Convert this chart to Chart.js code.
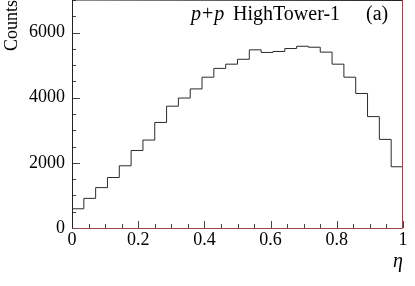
<!DOCTYPE html>
<html>
<head>
<meta charset="utf-8">
<script src="https://cdn.jsdelivr.net/npm/chart.js@4/dist/chart.umd.min.js"></script>
<style>
html,body{margin:0;padding:0;background:#fff;}
canvas{display:block;}
</style>
</head>
<body>
<canvas id="c" width="415" height="286"></canvas>
<script>
// ---- data ----
const nBins = 28;
const etaMin = 0, etaMax = 1;
const counts = [590, 910, 1240, 1550, 1910, 2380, 2700, 3240, 3740, 3990, 4270, 4630, 4900, 5030,
                5180, 5470, 5390, 5420, 5510, 5580, 5550, 5400, 5030, 4630, 4130, 3420, 2720, 1880];
const xTickValues = [0, 0.2, 0.4, 0.6, 0.8, 1];
const xTickLabels = ['0', '0.2', '0.4', '0.6', '0.8', '1'];
const yTickValues = [0, 2000, 4000, 6000];
const yTickLabels = ['0', '2000', '4000', '6000'];
const yMax = 7000;
const xTitle = 'η';
const yTitle = 'Counts';

// build step points at bin lower edges
const binWidth = (etaMax - etaMin) / nBins;
const pts = counts.map((v, i) => ({x: etaMin + i * binWidth, y: v}));
pts.push({x: etaMax, y: counts[counts.length - 1]});

const FONT = "'Liberation Serif', 'Times New Roman', serif";

const decor = {
  id: 'decor',
  afterDraw(chart) {
    const ctx = chart.ctx;
    const xs = chart.scales.x, ys = chart.scales.y;
    const a = chart.chartArea;
    ctx.save();
    // ticks
    ctx.strokeStyle = '#444';
    ctx.lineWidth = 1;
    ctx.beginPath();
    for (let k = 0; k <= 20; k++) {
      const v = k * 0.05;
      const px = Math.round(xs.getPixelForValue(v)) + 0.5;
      const len = (k % 4 === 0) ? 7 : 4;
      ctx.moveTo(px, a.bottom);
      ctx.lineTo(px, a.bottom - len);
    }
    for (let k = 0; k <= 14; k++) {
      const v = k * 500;
      const py = Math.round(ys.getPixelForValue(v)) + 0.5;
      const len = (k % 4 === 0) ? 8 : 4;
      ctx.moveTo(a.left, py);
      ctx.lineTo(a.left + len, py);
    }
    ctx.stroke();
    // frame
    ctx.lineWidth = 1;
    ctx.strokeStyle = '#222';
    ctx.beginPath();
    ctx.moveTo(Math.round(a.left) + 0.5, a.bottom);
    ctx.lineTo(Math.round(a.left) + 0.5, a.top);
    ctx.lineTo(a.right, Math.round(a.top) + 0.5);
    ctx.stroke();
    ctx.strokeStyle = '#9a4646';
    ctx.beginPath();
    ctx.moveTo(Math.round(a.right) - 0.5, a.top);
    ctx.lineTo(Math.round(a.right) - 0.5, Math.round(a.bottom) + 0.5);
    ctx.lineTo(a.left + 1, Math.round(a.bottom) + 0.5);
    ctx.stroke();
    // label text with italic p
    ctx.fillStyle = '#000';
    ctx.textBaseline = 'alphabetic';
    ctx.textAlign = 'left';
    let x = 191;
    const y = 20;
    const parts = [
      ['italic 20px ' + FONT, 'p', 1],
      ['20px ' + FONT, '+', 1],
      ['italic 20px ' + FONT, 'p', 0],
    ];
    for (const [f, t, gap] of parts) {
      ctx.font = f;
      ctx.fillText(t, x, y);
      x += ctx.measureText(t).width + gap;
    }
    ctx.font = '20px ' + FONT;
    ctx.fillText('HighTower-1', 233, y);
    ctx.fillText('(a)', 366, y);
    ctx.restore();
  }
};

new Chart(document.getElementById('c'), {
  type: 'line',
  data: {
    datasets: [{
      data: pts,
      stepped: 'before',
      borderColor: '#2a2a2a',
      borderWidth: 1,
      pointRadius: 0,
      fill: false,
      tension: 0
    }]
  },
  options: {
    responsive: false,
    animation: false,
    events: [],
    layout: {padding: {left: 0, right: 12, top: 0, bottom: 0}},
    plugins: {legend: {display: false}, tooltip: {enabled: false}},
    scales: {
      x: {
        type: 'linear',
        min: etaMin, max: etaMax,
        grid: {display: false, drawTicks: false},
        border: {display: false},
        afterBuildTicks: s => { s.ticks = xTickValues.map(v => ({value: v})); },
        afterFit: s => { s.height = 58; s.paddingLeft = 0; s.paddingRight = 0; },
        ticks: {
          autoSkip: false, maxRotation: 0, padding: 1,
          color: '#000',
          font: {family: FONT, size: 18},
          callback: (v, i) => xTickLabels[i]
        },
        title: {
          display: true, text: xTitle, align: 'end', color: '#000',
          font: {family: FONT, size: 20, style: 'italic'},
          padding: {top: 0, bottom: 12}
        }
      },
      y: {
        type: 'linear',
        min: 0, max: yMax,
        grid: {display: false, drawTicks: false},
        border: {display: false},
        afterBuildTicks: s => { s.ticks = yTickValues.map(v => ({value: v})); },
        afterFit: s => { s.width = 72; s.paddingTop = 0; s.paddingBottom = 0; },
        ticks: {
          autoSkip: false, padding: 7,
          color: '#000',
          font: {family: FONT, size: 18},
          callback: (v, i) => yTickLabels[i]
        },
        title: {
          display: true, text: yTitle, align: 'end', color: '#000',
          font: {family: FONT, size: 18},
          padding: {top: 1, bottom: 0}
        }
      }
    }
  },
  plugins: [decor]
});
</script>
</body>
</html>
